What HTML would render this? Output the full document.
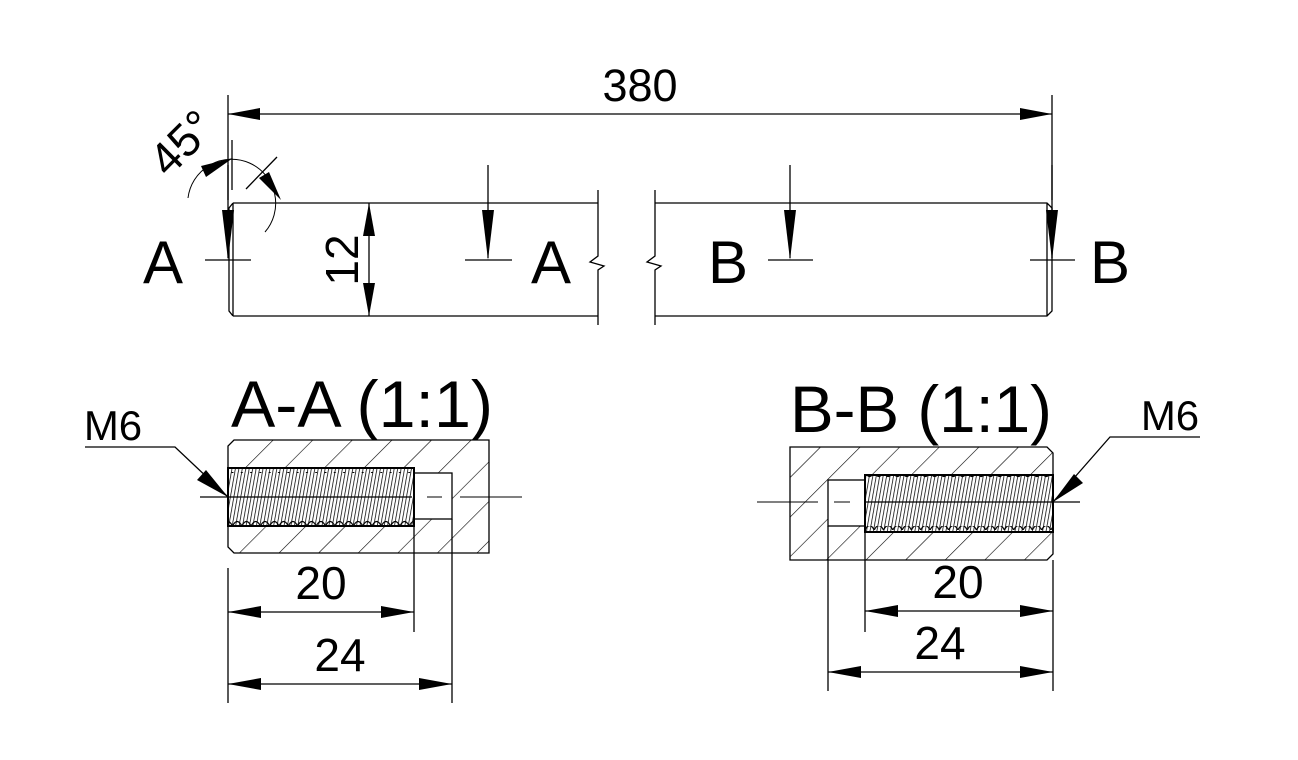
<!DOCTYPE html>
<html><head><meta charset="utf-8"><style>
html,body{margin:0;padding:0;background:#fff;}
svg{display:block;}
text{font-family:"Liberation Sans",Arial,sans-serif;fill:#000;}
</style></head><body>
<svg width="1298" height="760" viewBox="0 0 1298 760" xmlns="http://www.w3.org/2000/svg">
<defs>
<pattern id="hat" patternUnits="userSpaceOnUse" width="28" height="28" patternTransform="rotate(45)">
<line x1="0" y1="0" x2="0" y2="28" stroke="#000" stroke-width="1.2"/>
</pattern>
<pattern id="thr" patternUnits="userSpaceOnUse" width="3.4" height="60" patternTransform="rotate(10)">
<line x1="0" y1="0" x2="0" y2="60" stroke="#000" stroke-width="1.5"/>
</pattern>
<pattern id="wav" patternUnits="userSpaceOnUse" width="9.3" height="8">
<path d="M0,0 Q4.65,9 9.3,0" stroke="#000" stroke-width="1.2" fill="none"/>
</pattern>
</defs>
<g stroke="#000" stroke-width="1.3" fill="none">
<line x1="228" y1="95" x2="228" y2="200"/>
<line x1="1052" y1="95" x2="1052" y2="200"/>
<line x1="228" y1="114" x2="1052" y2="114"/>
<path d="M233,203 L598,203 M233,316 L598,316 M233,203 L229,208 L229,311 L233,316 M233,203 L233,316"/>
<path d="M598,190 L598,256 L590,262 L604,266 L598,270 L598,325"/>
<path d="M655,190 L655,256 L647,262 L661,266 L655,270 L655,325"/>
<path d="M655,203 L1047,203 L1052,208 L1052,311 L1047,316 L655,316 M1047,203 L1047,316"/>
<line x1="228" y1="165" x2="228" y2="258"/>
<line x1="205" y1="260" x2="251" y2="260"/>
<line x1="488" y1="165" x2="488" y2="258"/>
<line x1="465" y1="260" x2="512" y2="260"/>
<line x1="790" y1="165" x2="790" y2="258"/>
<line x1="768" y1="260" x2="813" y2="260"/>
<line x1="1052" y1="165" x2="1052" y2="258"/>
<line x1="1030" y1="260" x2="1075" y2="260"/>
<line x1="369" y1="203" x2="369" y2="316"/>
<line x1="232" y1="140" x2="232" y2="190"/>
<line x1="246" y1="189" x2="277" y2="157"/>
<path d="M188,198 A44,44 0 1 1 265,232" stroke-width="1"/>
</g>
<g fill="#000" stroke="none">
<polygon points="228,114 260,108 260,120"/>
<polygon points="1052,114 1020,108 1020,120"/>
<polygon points="228,260 222,210 234,210"/>
<polygon points="488,260 482,210 494,210"/>
<polygon points="790,260 784,210 796,210"/>
<polygon points="1052,260 1046,210 1058,210"/>
<polygon points="369,203 363,236 375,236"/>
<polygon points="369,316 363,283 375,283"/>
<polygon points="233,158 201,166 206,177"/>
<polygon points="281,200 269,172 259,178"/>
</g>
<text x="640" y="101" font-size="45" text-anchor="middle">380</text>
<text x="163" y="283" font-size="60" text-anchor="middle">A</text>
<text x="551" y="283" font-size="60" text-anchor="middle">A</text>
<text x="728" y="283" font-size="60" text-anchor="middle">B</text>
<text x="1110" y="283" font-size="60" text-anchor="middle">B</text>
<text transform="translate(358,260) rotate(-90)" font-size="46" text-anchor="middle">12</text>
<text transform="translate(193,154) rotate(-45)" font-size="46" text-anchor="middle">45°</text>

<!-- A-A section -->
<path d="M234,440 L489,440 L489,553 L234,553 L228,547 L228,446 Z" fill="url(#hat)" stroke="none"/>
<rect x="228" y="468" width="186" height="58" fill="#fff"/>
<rect x="228" y="468" width="186" height="58" fill="url(#thr)"/>
<rect x="228" y="468" width="186" height="5" fill="url(#wav)"/>
<rect x="228" y="520" width="186" height="6" fill="url(#wav)" transform="translate(0,1046) scale(1,-1)"/>
<rect x="414" y="473" width="38" height="46" fill="#fff"/>
<g stroke="#000" stroke-width="1.3" fill="none">
<path d="M234,440 L489,440 L489,553 L234,553 L228,547 L228,446 Z"/>
<rect x="228" y="468" width="186" height="58" stroke-width="2"/>
<rect x="414" y="473" width="38" height="46"/>
<line x1="200" y1="497" x2="412" y2="497" stroke-width="1.2"/>
<line x1="427" y1="497" x2="442" y2="497" stroke-width="1"/>
<line x1="460" y1="497" x2="522" y2="497" stroke-width="1"/>
<path d="M85,447 L175,447 L228,497"/>
<line x1="228" y1="568" x2="228" y2="703"/>
<line x1="414" y1="526" x2="414" y2="632"/>
<line x1="452" y1="519" x2="452" y2="703"/>
<line x1="228" y1="612" x2="414" y2="612"/>
<line x1="228" y1="684" x2="452" y2="684"/>
</g>
<g fill="#000">
<polygon points="228,497 206,470 197,480"/>
<polygon points="228,612 261,606 261,618"/>
<polygon points="414,612 381,606 381,618"/>
<polygon points="228,684 261,678 261,690"/>
<polygon points="452,684 419,678 419,690"/>
</g>
<text x="113" y="440" font-size="42" text-anchor="middle">M6</text>
<text x="362" y="427" font-size="66" text-anchor="middle" textLength="262" lengthAdjust="spacingAndGlyphs">A-A (1:1)</text>
<text x="321" y="599" font-size="46" text-anchor="middle">20</text>
<text x="340" y="671" font-size="46" text-anchor="middle">24</text>

<!-- B-B section -->
<path d="M790,447 L1047,447 L1053,453 L1053,554 L1047,560 L790,560 Z" fill="url(#hat)" stroke="none"/>
<rect x="865" y="475" width="188" height="57" fill="#fff"/>
<rect x="865" y="475" width="188" height="57" fill="url(#thr)"/>
<rect x="865" y="475" width="188" height="5" fill="url(#wav)"/>
<rect x="865" y="526" width="188" height="6" fill="url(#wav)" transform="translate(0,1058) scale(1,-1)"/>
<rect x="828" y="480" width="37" height="46" fill="#fff"/>
<g stroke="#000" stroke-width="1.3" fill="none">
<path d="M790,447 L1047,447 L1053,453 L1053,554 L1047,560 L790,560 Z"/>
<rect x="865" y="475" width="188" height="57" stroke-width="2"/>
<rect x="828" y="480" width="37" height="46"/>
<line x1="757" y1="502" x2="818" y2="502" stroke-width="1"/>
<line x1="834" y1="502" x2="850" y2="502" stroke-width="1"/>
<line x1="866" y1="502" x2="1080" y2="502" stroke-width="1.2"/>
<path d="M1200,437 L1110,437 L1053,502"/>
<line x1="828" y1="526" x2="828" y2="691"/>
<line x1="865" y1="532" x2="865" y2="632"/>
<line x1="1053" y1="560" x2="1053" y2="691"/>
<line x1="865" y1="611" x2="1053" y2="611"/>
<line x1="828" y1="672" x2="1053" y2="672"/>
</g>
<g fill="#000">
<polygon points="1053,502 1074,474 1083,483"/>
<polygon points="865,611 898,605 898,617"/>
<polygon points="1053,611 1020,605 1020,617"/>
<polygon points="828,672 861,666 861,678"/>
<polygon points="1053,672 1020,666 1020,678"/>
</g>
<text x="1170" y="430" font-size="42" text-anchor="middle">M6</text>
<text x="921" y="432" font-size="66" text-anchor="middle" textLength="262" lengthAdjust="spacingAndGlyphs">B-B (1:1)</text>
<text x="958" y="598" font-size="46" text-anchor="middle">20</text>
<text x="940" y="659" font-size="46" text-anchor="middle">24</text>
</svg>
</body></html>
